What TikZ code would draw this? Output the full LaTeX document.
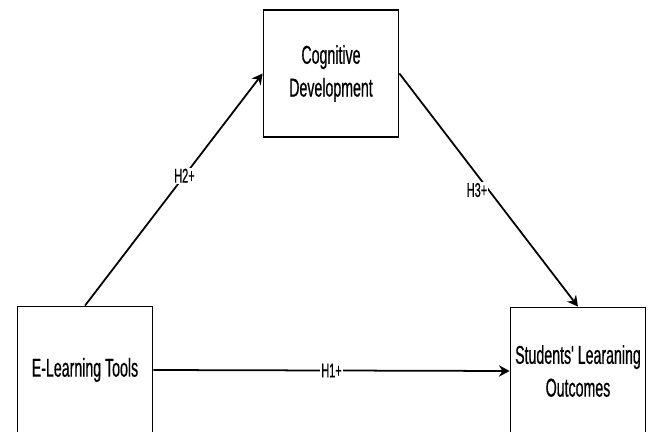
\documentclass[tikz,border=0pt]{standalone}
\usepackage{fontspec}
\newfontfamily\narrowsf{Liberation Sans}[FakeStretch=0.55,FakeBold=0.6]
\usetikzlibrary{arrows.meta}

\begin{document}
\begin{tikzpicture}[x=0.03cm,y=-0.03cm,
    varbox/.style={draw,line width=1.5pt,minimum width=4.05cm,minimum height=3.81cm,
        align=center,font=\narrowsf\fontsize{22}{28}\selectfont},
    hyp/.style={fill=white,inner sep=1pt,font=\narrowsf\fontsize{17}{19}\selectfont},
    link/.style={line width=1.5pt,-{Stealth[length=3.2mm,width=3.4mm]}}]
    \clip (0,0) rectangle (648,432);
    \node[varbox] (cog) at (331,73.5) {Cognitive\\Development};
    \node[varbox] (elt) at (85,370) {E-Learning Tools};
    \node[varbox] (slo) at (578,371) {Students' Learaning\\Outcomes};
    \draw[link] (elt.north) -- node[hyp,pos=0.56]{H2+} (cog.west);
    \draw[link] (cog.east) -- node[hyp,pos=0.5,xshift=-10]{H3+} (slo.north);
    \draw[link] (elt.east) -- node[hyp,pos=0.5]{H1+} (slo.west);
\end{tikzpicture}
\end{document}
